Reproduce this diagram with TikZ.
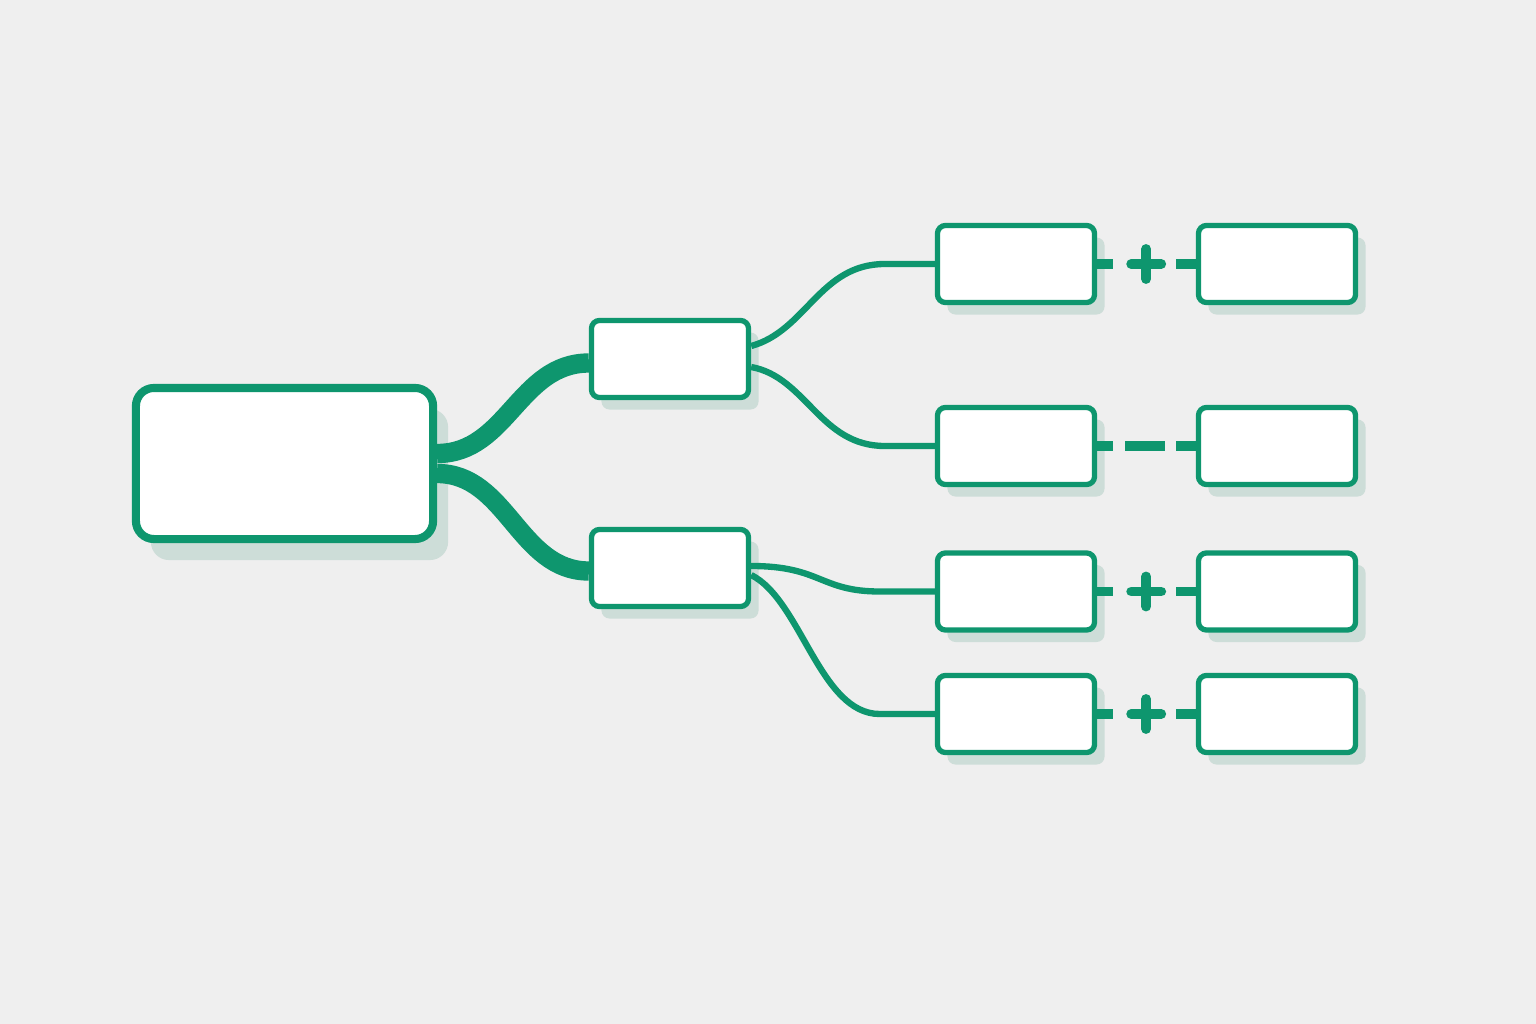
\documentclass[tikz,border=0pt]{standalone}
\usetikzlibrary{shadows}
\definecolor{bgc}{RGB}{239,239,239}
\definecolor{grn}{RGB}{14,150,110}
\definecolor{shd}{RGB}{205,221,216}
\tikzset{
  boxbase/.style={draw=grn, fill=white, inner sep=0pt},
  box/.style={boxbase, line width=1.5pt, rounded corners=0.08cm,
    minimum width=1.57cm, minimum height=0.77cm,
    drop shadow={shadow xshift=0.1cm, shadow yshift=-0.12cm, fill=shd, opacity=1}},
  rootbox/.style={boxbase, line width=2.3pt, rounded corners=0.18cm,
    minimum width=2.97cm, minimum height=1.51cm,
    drop shadow={shadow xshift=0.15cm, shadow yshift=-0.21cm, fill=shd, opacity=1}},
  trunk/.style={draw=grn, line width=5.5pt},
  branch/.style={draw=grn, line width=1.8pt},
  sign/.style={draw=grn, line width=2.8pt},
}
\begin{document}
\begin{tikzpicture}[x=0.01cm,y=-0.01cm]
	\fill[bgc] (0,0) rectangle (1536,1024);
	\useasboundingbox (0,0) rectangle (1536,1024);
	% boxes
	\node[rootbox] (root) at (284.5,463.5) {};
	\node[box] (m1) at (670,359) {};
	\node[box] (m2) at (670,568) {};
	\node[box] (a1) at (1016,264) {};
	\node[box] (a2) at (1016,446) {};
	\node[box] (a3) at (1016,591.5) {};
	\node[box] (a4) at (1016,714) {};
	\node[box] (b1) at (1277,264) {};
	\node[box] (b2) at (1277,446) {};
	\node[box] (b3) at (1277,591.5) {};
	\node[box] (b4) at (1277,714) {};
	% trunk
	\draw[trunk] ([yshift=0.1cm]root.east) .. controls +(70,0) and +(-70,0) .. ([yshift=-0.04cm]m1.west);
	\draw[trunk] ([yshift=-0.1cm]root.east) .. controls +(70,0) and +(-70,0) .. ([yshift=-0.03cm]m2.west);
	% branches
	\draw[branch] ([yshift=0.13cm]m1.east) .. controls +(55,-15) and +(-65,0) .. ([xshift=-0.5cm]a1.west) -- (a1.west);
	\draw[branch] ([yshift=-0.08cm]m1.east) .. controls +(55,10) and +(-65,0) .. ([xshift=-0.5cm]a2.west) -- (a2.west);
	\draw[branch] ([yshift=0.02cm]m2.east) .. controls +(70,0) and +(-60,0) .. ([xshift=-0.55cm]a3.west) -- (a3.west);
	\draw[branch] ([yshift=-0.07cm]m2.east) .. controls +(50,25) and +(-60,0) .. ([xshift=-0.55cm]a4.west) -- (a4.west);
	% signs
	\draw[sign] (a1.east) -- ++(16,0);
	\draw[sign] (b1.west) -- ++(-20,0);
	\draw[sign,line cap=round] ([xshift=0.34cm]a1.east) -- ++(30,0) ++(-15,-15) -- ++(0,30);
	\draw[sign] (a2.east) -- ++(16,0);
	\draw[sign] (b2.west) -- ++(-20,0);
	\draw[sign] ([xshift=0.28cm]a2.east) -- ++(40,0);
	\draw[sign] (a3.east) -- ++(16,0);
	\draw[sign] (b3.west) -- ++(-20,0);
	\draw[sign,line cap=round] ([xshift=0.34cm]a3.east) -- ++(30,0) ++(-15,-15) -- ++(0,30);
	\draw[sign] (a4.east) -- ++(16,0);
	\draw[sign] (b4.west) -- ++(-20,0);
	\draw[sign,line cap=round] ([xshift=0.34cm]a4.east) -- ++(30,0) ++(-15,-15) -- ++(0,30);
\end{tikzpicture}
\end{document}
